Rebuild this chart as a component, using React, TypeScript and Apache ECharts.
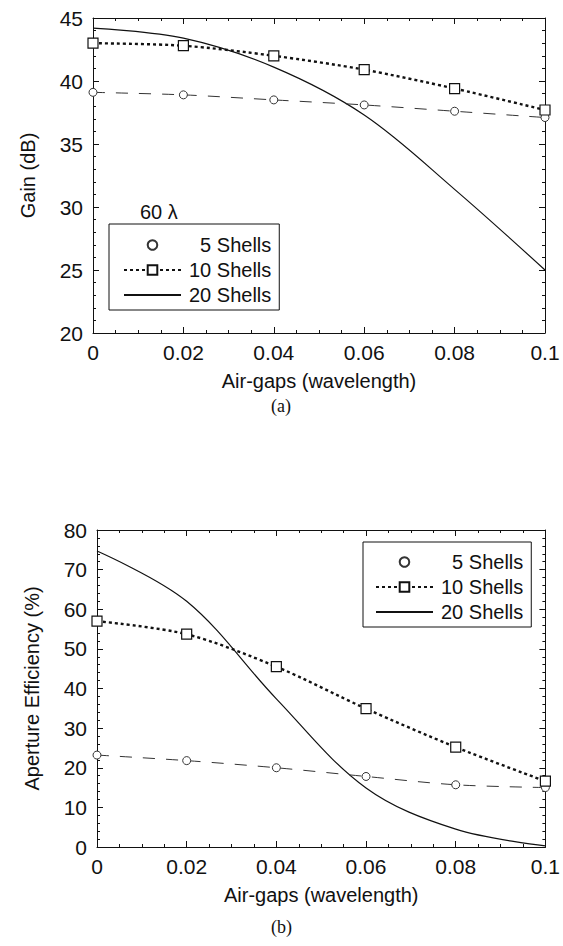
import React, { useEffect, useRef } from "react";
import * as echarts from "echarts";

// Air-gap values (wavelength) shared by both panels
const airGaps = [0, 0.02, 0.04, 0.06, 0.08, 0.1];

// Panel (a): Gain (dB)
const gain5 = [39.1, 38.9, 38.5, 38.1, 37.6, 37.1];
const gain10 = [43.0, 42.8, 42.0, 40.9, 39.4, 37.7];
const gain20 = [44.2, 43.4, 41.1, 37.3, 31.4, 25.0];

// Panel (b): Aperture efficiency (%)
const eff5 = [23.2, 21.8, 20.0, 17.8, 15.7, 15.0];
const eff10 = [57.0, 53.7, 45.5, 34.9, 25.2, 16.6];
const eff20 = [74.7, 62.0, 37.4, 14.9, 4.5, 0.3];

const seriesNames = ["5 Shells", "10 Shells", "20 Shells"];

const FONT = '"Liberation Sans", Arial, Helvetica, sans-serif';
const INK = "#111";

const pair = (ys: number[]) => airGaps.map((x, i) => [x, ys[i]]);

const fmtX = (v: number) => (v === 0 ? "0" : String(Math.round(v * 100) / 100));

function xAxes(gridIndex: number) {
  const base = {
    type: "value",
    gridIndex,
    min: 0,
    max: 0.1,
    interval: 0.02,
    axisLine: { show: true, onZero: false, lineStyle: { color: INK, width: 1 } },
    axisTick: { show: true, inside: true, length: 6, lineStyle: { color: INK } },
    minorTick: { show: true, splitNumber: 4, length: 3, lineStyle: { color: INK } },
    splitLine: { show: false },
  };
  return [
    {
      ...base,
      position: "bottom",
      name: "Air-gaps (wavelength)",
      nameLocation: "middle",
      nameGap: 38,
      nameTextStyle: { fontFamily: FONT, fontSize: 20, color: INK },
      axisLabel: {
        fontFamily: FONT,
        fontSize: 21,
        color: INK,
        margin: 9,
        formatter: fmtX,
        showMaxLabel: true,
        showMinLabel: true,
      },
    },
    { ...base, position: "top", axisLabel: { show: false } },
  ];
}

function yAxes(gridIndex: number, min: number, max: number, interval: number, minorSplit: number, name: string, nameGap: number) {
  const base = {
    type: "value",
    gridIndex,
    min,
    max,
    interval,
    axisLine: { show: true, onZero: false, lineStyle: { color: INK, width: 1 } },
    axisTick: { show: true, inside: true, length: 6, lineStyle: { color: INK } },
    minorTick: { show: true, splitNumber: minorSplit, length: 3, lineStyle: { color: INK } },
    splitLine: { show: false },
  };
  return [
    {
      ...base,
      position: "left",
      name,
      nameLocation: "middle",
      nameGap,
      nameTextStyle: { fontFamily: FONT, fontSize: 20, color: INK },
      axisLabel: { fontFamily: FONT, fontSize: 21, color: INK, margin: 10 },
    },
    { ...base, position: "right", axisLabel: { show: false } },
  ];
}

function makeSeries(xIdx: number, yIdx: number, d5: number[], d10: number[], d20: number[]) {
  return [
    {
      name: seriesNames[0],
      type: "line",
      xAxisIndex: xIdx,
      yAxisIndex: yIdx,
      data: pair(d5),
      smooth: 0.3,
      symbol: "circle",
      symbolSize: 8,
      itemStyle: { color: "#fff", borderColor: "#333", borderWidth: 1 },
      lineStyle: { color: "#333", width: 1, type: [12, 11] },
    },
    {
      name: seriesNames[1],
      type: "line",
      xAxisIndex: xIdx,
      yAxisIndex: yIdx,
      data: pair(d10),
      smooth: 0.3,
      symbol: "rect",
      symbolSize: 10,
      itemStyle: { color: "#fff", borderColor: INK, borderWidth: 1.2 },
      lineStyle: { color: INK, width: 2.4, type: [3, 3] },
      z: 3,
    },
    {
      name: seriesNames[2],
      type: "line",
      xAxisIndex: xIdx,
      yAxisIndex: yIdx,
      data: pair(d20),
      smooth: 0.35,
      symbol: "none",
      itemStyle: { color: INK },
      lineStyle: { color: INK, width: 1.2, type: "solid" },
      z: 2,
    },
  ];
}

function legendAt(left: number, top: number, padding: number[]) {
  return {
    show: true,
    orient: "vertical",
    left,
    top,
    padding,
    itemGap: 5,
    itemWidth: 57,
    itemHeight: 12,
    borderColor: INK,
    borderWidth: 1,
    backgroundColor: "#fff",
    selectedMode: false,
    data: [
      { name: seriesNames[0], lineStyle: { opacity: 0 } },
      { name: seriesNames[1] },
      { name: seriesNames[2], itemStyle: { opacity: 0 } },
    ],
    formatter: (n: string) => (n === "5 Shells" ? "  5 Shells" : n),
    textStyle: { fontFamily: FONT, fontSize: 20, lineHeight: 20, color: INK, padding: [0, 0, 0, 3] },
  };
}

export default function App() {
  const ref = useRef<HTMLDivElement>(null);

  useEffect(() => {
    if (!ref.current) return;
    const chart = echarts.init(ref.current, undefined, { renderer: "svg" });
    const option = {
      animation: false,
      backgroundColor: "#fff",
      grid: [
        { left: 93, top: 18, width: 452, height: 315 },
        { left: 97, top: 530, width: 451, height: 317 },
      ],
      xAxis: [...xAxes(0), ...xAxes(1)],
      yAxis: [
        ...yAxes(0, 20, 45, 5, 5, "Gain (dB)", 55),
        ...yAxes(1, 0, 80, 10, 5, "Aperture Efficiency (%)", 55),
      ],
      legend: [legendAt(109, 224, [11, 8, 5, 14]), legendAt(363, 542, [10, 8, 5, 12])],
      series: [
        ...makeSeries(0, 0, gain5, gain10, gain20),
        ...makeSeries(2, 2, eff5, eff10, eff20),
      ],
      graphic: [
        {
          type: "text",
          left: 140,
          top: 202,
          style: { text: "60 λ", font: `20px ${FONT}`, fill: INK },
        },
        {
          type: "text",
          left: 271,
          top: 397,
          style: { text: "(a)", font: `18px "Liberation Serif", "Times New Roman", serif`, fill: INK },
        },
        {
          type: "text",
          left: 271,
          top: 918,
          style: { text: "(b)", font: `18px "Liberation Serif", "Times New Roman", serif`, fill: INK },
        },
      ],
    };
    chart.setOption(option as any);
    return () => chart.dispose();
  }, []);

  return (
    <div
      ref={ref}
      style={{ position: "absolute", left: 0, top: 0, width: 563, height: 946, background: "#fff" }}
    />
  );
}
